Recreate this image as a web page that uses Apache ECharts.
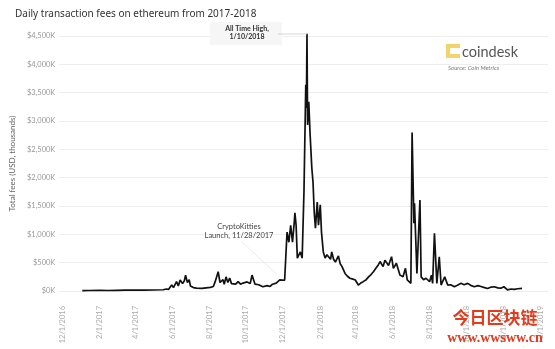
<!DOCTYPE html>
<html>
<head>
<meta charset="utf-8">
<script src="https://cdn.jsdelivr.net/npm/echarts@6/dist/echarts.min.js"></script>
<style>html,body{margin:0;padding:0;background:#fff;}#c{width:555px;height:349px;}</style>
</head>
<body>
<div id="c"></div>
<script>
var titleText = 'Daily transaction fees on ethereum from 2017-2018';
var yAxisName = 'Total fees (USD, thousands)';
var tickLabels = ['12/1/2016','2/1/2017','4/1/2017','6/1/2017','8/1/2017','10/1/2017','12/1/2017','2/1/2018','4/1/2018','6/1/2018','8/1/2018','10/1/2018','12/1/2018','2/1/2019'];
var yTicks = [0,500,1000,1500,2000,2500,3000,3500,4000,4500];
var dates = ['2017-01-03','2017-01-15','2017-02-01','2017-02-15','2017-03-01','2017-03-15','2017-04-01','2017-04-15','2017-05-01','2017-05-17','2017-05-22','2017-05-26','2017-05-31','2017-06-03','2017-06-08','2017-06-11','2017-06-14','2017-06-18','2017-06-21','2017-06-23','2017-06-26','2017-06-29','2017-07-01','2017-07-06','2017-07-11','2017-07-20','2017-07-27','2017-08-03','2017-08-08','2017-08-11','2017-08-16','2017-08-19','2017-08-24','2017-08-26','2017-08-29','2017-09-01','2017-09-04','2017-09-07','2017-09-10','2017-09-14','2017-09-18','2017-09-22','2017-09-26','2017-10-03','2017-10-08','2017-10-11','2017-10-16','2017-10-22','2017-10-29','2017-11-05','2017-11-10','2017-11-14','2017-11-20','2017-11-26','2017-12-04','2017-12-05','2017-12-08','2017-12-11','2017-12-14','2017-12-17','2017-12-20','2017-12-21','2017-12-23','2017-12-25','2017-12-28','2017-12-30','2018-01-02','2018-01-05','2018-01-08','2018-01-09','2018-01-10','2018-01-11','2018-01-13','2018-01-15','2018-01-18','2018-01-20','2018-01-22','2018-01-24','2018-01-27','2018-01-29','2018-02-01','2018-02-03','2018-02-06','2018-02-09','2018-02-12','2018-02-15','2018-02-18','2018-02-20','2018-02-23','2018-02-26','2018-03-03','2018-03-06','2018-03-09','2018-03-14','2018-03-18','2018-03-22','2018-03-27','2018-03-31','2018-04-05','2018-04-09','2018-04-13','2018-04-18','2018-04-22','2018-04-26','2018-04-30','2018-05-04','2018-05-08','2018-05-11','2018-05-16','2018-05-19','2018-05-25','2018-05-30','2018-06-02','2018-06-07','2018-06-13','2018-06-18','2018-06-22','2018-06-25','2018-07-01','2018-07-03','2018-07-06','2018-07-07','2018-07-11','2018-07-16','2018-07-18','2018-07-22','2018-07-26','2018-08-01','2018-08-04','2018-08-06','2018-08-09','2018-08-13','2018-08-17','2018-08-20','2018-08-26','2018-08-31','2018-09-05','2018-09-11','2018-09-16','2018-09-22','2018-09-27','2018-10-03','2018-10-08','2018-10-14','2018-10-20','2018-10-25','2018-10-31','2018-11-05','2018-11-11','2018-11-16','2018-11-22','2018-11-27','2018-12-02','2018-12-08','2018-12-14','2018-12-19','2018-12-25','2019-01-01'];
var fees = [8,9,10,9,12,14,15,16,18,22,35,30,105,60,165,90,195,130,180,280,150,200,90,60,50,45,55,65,80,165,340,150,200,120,250,150,230,130,150,120,165,120,140,160,130,280,120,110,75,95,80,120,140,195,190,200,1040,860,1160,860,1220,1380,1160,580,580,690,580,1750,3640,3230,4540,2930,3340,2800,2170,1920,1390,1110,1570,1160,1520,1040,690,580,640,620,560,690,560,510,620,480,430,310,260,225,210,195,105,140,165,200,250,290,340,400,460,520,430,545,450,605,400,490,280,250,400,195,135,2795,1195,1550,310,1605,250,200,225,165,280,135,1020,135,605,105,250,105,110,75,100,135,110,135,100,75,95,80,60,45,70,75,55,50,75,20,35,30,40,45];
var athLabel = 'All Time High,\n1/10/2018';
var athDate = '2018-01-10';
var ckLabel = 'CryptoKitties\nLaunch, 11/28/2017';
var ckDate = '2017-11-28';

function parseMDY(s){var p=s.split('/');return Date.UTC(+p[2],+p[0]-1,+p[1]);}
function parseISO(s){var p=s.split('-');return Date.UTC(+p[0],+p[1]-1,+p[2]);}
var tickTimes = tickLabels.map(parseMDY);
var seriesData = dates.map(function(d,i){return [parseISO(d), fees[i]];});
var labelMap = {}; tickTimes.forEach(function(t,i){labelMap[t]=tickLabels[i];});

var chart = echarts.init(document.getElementById('c'), null, {renderer:'canvas'});
var font = 'Lato, "Noto Sans", sans-serif';
chart.setOption({
  animation:false,
  backgroundColor:'#fff',
  title:{text:titleText,left:10,top:4,textStyle:{fontSize:10,fontWeight:'normal',color:'#333',fontFamily:'"Noto Sans", sans-serif'}},
  grid:{left:55,right:7,top:36,bottom:58},
  xAxis:{type:'value',min:Date.UTC(2016,10,26),max:Date.UTC(2019,1,13),
    axisLine:{show:false},axisTick:{show:false},splitLine:{show:false},
    axisLabel:{customValues:tickTimes,rotate:90,margin:15,fontSize:7.5,color:'#aaa',fontFamily:font,
      formatter:function(v){return labelMap[v]||'';}}},
  yAxis:{type:'value',min:0,max:4500,interval:500,name:yAxisName,nameLocation:'middle',nameGap:40,
    nameTextStyle:{fontSize:8,color:'#666',fontFamily:font},
    axisLine:{show:false},axisTick:{show:false},
    splitLine:{lineStyle:{color:'#eeeeee',width:1}},
    axisLabel:{margin:4,fontSize:7.5,color:'#999',fontFamily:font,
      formatter:function(v){return '$'+v.toLocaleString('en-US')+'K';}}},
  series:[{type:'line',data:seriesData,showSymbol:false,clip:false,
    lineStyle:{color:'#111',width:1.7},itemStyle:{color:'#111'}}]
});

var pAth = chart.convertToPixel({xAxisIndex:0,yAxisIndex:0},[parseISO(athDate),4500]);
var pCk = chart.convertToPixel({xAxisIndex:0,yAxisIndex:0},[parseISO(ckDate),150]);
chart.setOption({graphic:[
  {type:'rect',shape:{x:210,y:22,width:72,height:23},style:{fill:'#f6f6f6'},z:10},
  {type:'line',shape:{x1:278,y1:34,x2:pAth[0],y2:34},style:{stroke:'#ccc',lineWidth:0.8},z:10},
  {type:'text',x:247,y:33,style:{text:athLabel,fontSize:7,fontWeight:'bold',fill:'#333',align:'center',verticalAlign:'middle',lineHeight:8,fontFamily:font},z:11},
  {type:'line',shape:{x1:241,y1:241,x2:pCk[0]-4,y2:pCk[1]-8},style:{stroke:'#e6e6e6',lineWidth:0.8},z:10},
  {type:'text',x:239,y:231,style:{text:ckLabel,fontSize:7.5,fill:'#444',align:'center',verticalAlign:'middle',lineHeight:9,fontFamily:font},z:11},
  {type:'rect',shape:{x:446,y:44,width:14,height:14},style:{fill:'#f3d46c'},z:10},
  {type:'rect',shape:{x:450,y:48,width:10,height:6},style:{fill:'#fff'},z:11},
  {type:'text',x:462,y:52,style:{text:'coindesk',fontSize:14.5,fill:'#555',verticalAlign:'middle',fontFamily:font},z:11},
  {type:'text',x:448,y:68,style:{text:'Source: Coin Metrics',fontSize:6,fontStyle:'italic',fill:'#777',verticalAlign:'middle',fontFamily:font},z:11},
  {type:'text',x:495,y:318,style:{text:'今日区块链',fontSize:17,fontWeight:'bold',fill:'#e23b1e',align:'center',verticalAlign:'middle',fontFamily:'"Noto Sans CJK SC"'},z:12},
  {type:'text',x:495,y:338,style:{text:'www.wwsww.cn',fontSize:14,fontWeight:'bold',fill:'#e23b1e',align:'center',verticalAlign:'middle',fontFamily:'"Liberation Serif", serif'},z:12}
]});
</script>
</body>
</html>
